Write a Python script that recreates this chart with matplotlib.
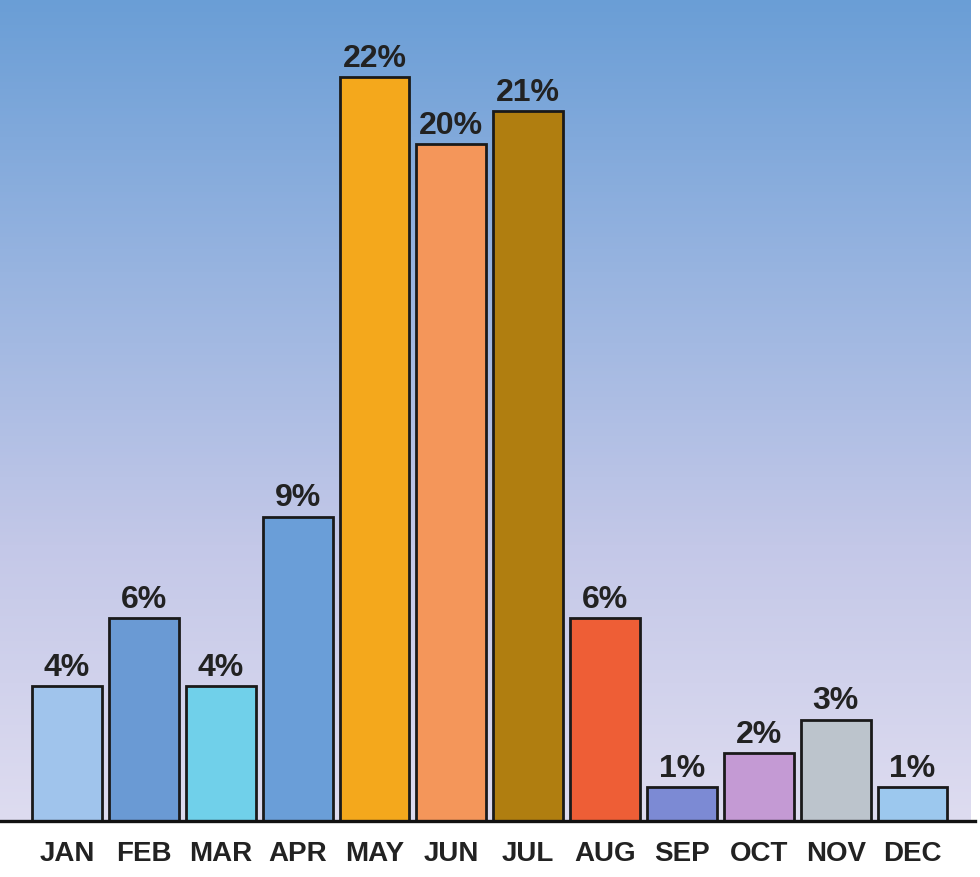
import numpy as np
import matplotlib
matplotlib.use("Agg")
import matplotlib.pyplot as plt
from matplotlib.colors import LinearSegmentedColormap

months = ["JAN", "FEB", "MAR", "APR", "MAY", "JUN", "JUL", "AUG", "SEP", "OCT", "NOV", "DEC"]
shares = [4, 6, 4, 9, 22, 20, 21, 6, 1, 2, 3, 1]
bar_colors = ["#a0c4ec", "#6a9ad4", "#70d0ea", "#6a9ed8", "#f4a81c", "#f4965a",
              "#b07e10", "#ee5e36", "#7c8ad4", "#c49ad4", "#bcc4cc", "#9cc8ee"]

plt.rcParams['font.family'] = ['Liberation Sans', 'DejaVu Sans']

fig = plt.figure(figsize=(9.8, 8.78), dpi=100)
fig.patch.set_facecolor("white")
ax = fig.add_axes([0.0, 56 / 878, 975 / 980, 822 / 878])

# background gradient: blue at top fading to pale lavender
grad = LinearSegmentedColormap.from_list("bg", ["#dedcf0", "#c4c8e8", "#98b4e0", "#6a9ed6"])
ax.imshow(np.linspace(0, 1, 256).reshape(-1, 1), cmap=grad, origin="lower",
          extent=[0, 970 / 975, 0, 1], transform=ax.transAxes, aspect="auto", zorder=0)

x = np.arange(len(months))
bars = ax.bar(x, shares, width=0.91, color=bar_colors, edgecolor="#1a1a1a",
              linewidth=2, zorder=2)
for b, v in zip(bars, shares):
    ax.text(b.get_x() + b.get_width() / 2, v + 0.12, f"{v}%", ha="center", va="bottom",
            fontsize=23, fontweight="bold", color="#222222", zorder=3)

ax.axhline(0, color="#111111", linewidth=2.4, zorder=3, clip_on=False)
ax.set_xlim(-0.872, 11.813)
ax.set_ylim(0, 24.3)
ax.set_xticks(x)
ax.set_xticklabels(months, fontsize=20, fontweight="bold", color="#222222")
ax.tick_params(axis="x", length=0, pad=14)
ax.set_yticks([])
for s in ax.spines.values():
    s.set_visible(False)

fig.savefig("out.png", dpi=100)
